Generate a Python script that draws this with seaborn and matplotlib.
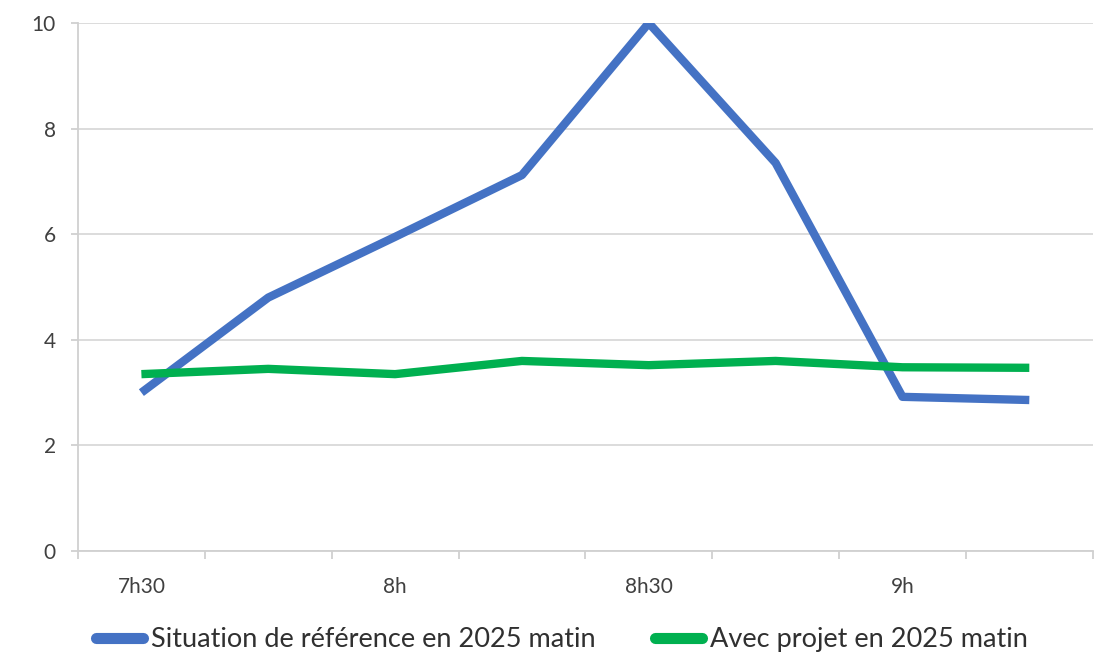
import numpy as np
import pandas as pd
import seaborn as sns
import matplotlib.pyplot as plt

# quarter-hour slots, labels shown every half hour
slots = ['7h30', '7h45', '8h', '8h15', '8h30', '8h45', '9h', '9h15']
reference = [3.0, 4.8, 5.95, 7.12, 10.0, 7.35, 2.92, 2.86]
projet    = [3.35, 3.45, 3.35, 3.6, 3.52, 3.6, 3.48, 3.47]
series_names = ['Situation de référence en 2025 matin', 'Avec projet en 2025 matin']

df = pd.DataFrame({
    'x': list(range(len(slots))) * 2,
    'value': reference + projet,
    'serie': [series_names[0]] * len(slots) + [series_names[1]] * len(slots),
})

sns.set_style('white')
plt.rcParams['font.family'] = ['Lato', 'DejaVu Sans']

fig = plt.figure(figsize=[11.06, 6.58], dpi=100)
ax = fig.add_axes([0.0705, 0.1626, 0.9175, 0.8024])
palette = {series_names[0]: '#4472C4', series_names[1]: '#00B050'}
sns.lineplot(data=df, x='x', y='value', hue='serie', palette=palette,
             linewidth=6.0, ax=ax, legend=False, solid_capstyle='butt')

ax.set_xlim(-0.5, len(slots) - 0.5)
ax.set_ylim(0, 10)
ax.set_yticks([0, 2, 4, 6, 8, 10])
ax.set_xticks([0, 2, 4, 6])
ax.set_xticklabels([slots[i] for i in [0, 2, 4, 6]])
ax.set_xticks(np.arange(-0.5, len(slots)), minor=True)
ax.set_xlabel('')
ax.set_ylabel('')

ax.yaxis.grid(True, color='#d9d9d9', linewidth=1.3)
ax.set_axisbelow(True)
for s in ['top', 'right']:
    ax.spines[s].set_visible(False)
for s in ['left', 'bottom']:
    ax.spines[s].set_color('#d0d0d0')
    ax.spines[s].set_linewidth(1.3)

ax.tick_params(axis='x', which='major', bottom=False, length=0, pad=19, labelsize=15, labelcolor='#404040')
ax.tick_params(axis='x', which='minor', bottom=True, length=6, width=1.3, color='#d0d0d0', direction='out')
ax.tick_params(axis='y', left=True, length=5, width=1.3, color='#d0d0d0', pad=11, labelsize=15, labelcolor='#404040')

handles = [plt.Line2D([], [], color=palette[n], linewidth=8, solid_capstyle='round') for n in series_names]
fig.legend(handles, series_names, loc='center', bbox_to_anchor=(0.508, 0.028),
           ncol=2, frameon=False, fontsize=19.5, handlelength=1.75, handletextpad=0.28,
           columnspacing=2.2, labelcolor='#303030')

plt.savefig('out.png', dpi=100)
